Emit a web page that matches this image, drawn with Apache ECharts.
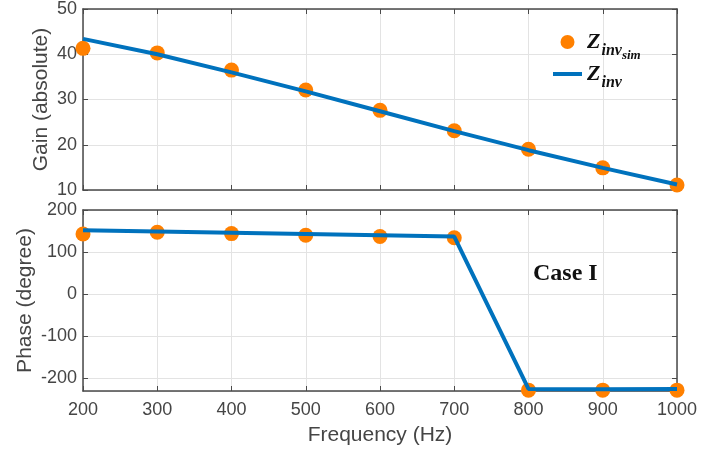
<!DOCTYPE html>
<html>
<head>
<meta charset="UTF-8">
<title>Gain / Phase</title>
<script src="https://cdn.jsdelivr.net/npm/echarts@6/dist/echarts.min.js"></script>
</head>
<body style="margin:0">
<div id="container" style="width:725px;height:451px"></div>
<script type="text/javascript">
    // frequency points (Hz)
    var freq = [200, 300, 400, 500, 600, 700, 800, 900, 1000];
    // gain, absolute
    var gainSim = [41.3, 40.3, 36.5, 32.1, 27.6, 23.1, 19.0, 14.9, 11.1];
    var gainInv = [43.4, 40.0, 36.0, 31.8, 27.4, 23.0, 18.8, 14.9, 11.2];
    // phase, degree
    var phaseSim = [143, 147, 144, 140, 137, 134, -228, -228, -228];
    var phaseInv = [152, 149, 146, 143, 140, 137, -225, -226, -225];

    var dom = document.getElementById("container");
    var myChart = echarts.init(dom);

    var txt = '#454545';
    var axisCol = '#4a4a4a';
    var orange = '#ff8000';
    var blue = '#0072bd';
    var sans = 'Liberation Sans, Arial';

    function pairs(xs, ys) {
        return xs.map(function (x, i) { return [x, ys[i]]; });
    }

    function xAx(grid, pos, labels, name) {
        return {
            type: 'value', gridIndex: grid, position: pos,
            min: 200, max: 1000, interval: 100,
            name: name || '', nameLocation: 'middle', nameGap: 34, nameMoveOverlap: false,
            nameTextStyle: {color: txt, fontSize: 21, fontFamily: sans},
            axisLine: {show: true, onZero: false, lineStyle: {color: axisCol, width: 1.5}},
            axisTick: {show: true, inside: true, length: 5, lineStyle: {color: axisCol}},
            axisLabel: {show: labels, color: txt, fontSize: 18, margin: 10, fontFamily: sans,
                formatter: function (v) { return String(v); }},
            splitLine: {show: pos === 'bottom', lineStyle: {color: '#e3e3e3'}}
        };
    }

    var option = {
        animation: false,
        backgroundColor: '#fff',
        grid: [
            {left: 83, right: 48, top: 9, height: 181},
            {left: 83, right: 48, top: 210, height: 181}
        ],
        xAxis: [
            xAx(0, 'bottom', false),
            xAx(0, 'top', false),
            xAx(1, 'bottom', true, 'Frequency (Hz)'),
            xAx(1, 'top', false)
        ],
        yAxis: [
            {
                type: 'value', gridIndex: 0, position: 'left', min: 10, max: 50, interval: 10,
                name: 'Gain (absolute)', nameLocation: 'middle', nameGap: 31, nameMoveOverlap: false,
                nameTextStyle: {color: txt, fontSize: 21, fontFamily: sans},
                axisLine: {show: true, lineStyle: {color: axisCol, width: 1.5}},
                axisTick: {show: true, inside: true, length: 5, lineStyle: {color: axisCol}},
                axisLabel: {color: txt, fontSize: 18, margin: 6, fontFamily: sans},
                splitLine: {show: true, lineStyle: {color: '#e3e3e3'}}
            },
            {
                type: 'value', gridIndex: 0, position: 'right', min: 10, max: 50, interval: 10,
                axisLine: {show: true, lineStyle: {color: axisCol, width: 1.5}},
                axisTick: {show: true, inside: true, length: 5, lineStyle: {color: axisCol}},
                axisLabel: {show: false}, splitLine: {show: false}
            },
            {
                type: 'value', gridIndex: 1, position: 'left', min: -230, max: 200, splitNumber: 4,
                name: 'Phase (degree)', nameLocation: 'middle', nameGap: 47, nameMoveOverlap: false,
                nameTextStyle: {color: txt, fontSize: 21, fontFamily: sans},
                axisLine: {show: true, lineStyle: {color: axisCol, width: 1.5}},
                axisTick: {show: true, inside: true, length: 5, lineStyle: {color: axisCol}},
                axisLabel: {color: txt, fontSize: 18, margin: 6, showMinLabel: false, fontFamily: sans},
                splitLine: {show: true, lineStyle: {color: '#e3e3e3'}}
            },
            {
                type: 'value', gridIndex: 1, position: 'right', min: -230, max: 200, splitNumber: 4,
                axisLine: {show: true, lineStyle: {color: axisCol, width: 1.5}},
                axisTick: {show: true, inside: true, length: 5, lineStyle: {color: axisCol}},
                axisLabel: {show: false}, splitLine: {show: false}
            }
        ],
        legend: {
            orient: 'vertical', left: 548, top: 26, itemGap: 1,
            itemWidth: 29, itemHeight: 14,
            data: [
                {name: 'Zsim', icon: 'circle'},
                {name: 'Zinv', icon: 'path://M0,0H29V4H0Z', itemStyle: {color: blue}}
            ],
            formatter: function (n) {
                return n === 'Zsim' ? '{z|Z}{s|inv}{ss|sim}' : '{z|Z}{s|inv}';
            },
            textStyle: {
                color: '#111',
                rich: {
                    z: {fontSize: 22, fontWeight: 'bold', fontStyle: 'italic', fontFamily: 'Liberation Serif', lineHeight: 24},
                    s: {fontSize: 16, fontWeight: 'bold', fontStyle: 'italic', fontFamily: 'Liberation Serif', verticalAlign: 'bottom', lineHeight: 16, padding: [0, 0, -5, 1]},
                    ss: {fontSize: 13, fontWeight: 'bold', fontStyle: 'italic', fontFamily: 'Liberation Serif', verticalAlign: 'bottom', lineHeight: 12, padding: [0, 0, -8, 0]}
                }
            }
        },
        graphic: [{
            type: 'text', left: 533, top: 262,
            style: {text: 'Case I', fill: '#111', font: 'bold 24px "Liberation Serif"'}
        }],
        series: [
            {
                name: 'Zsim', type: 'scatter', xAxisIndex: 0, yAxisIndex: 0,
                data: pairs(freq, gainSim), symbol: 'circle', symbolSize: 15,
                itemStyle: {color: orange, opacity: 1}, z: 2
            },
            {
                name: 'Zinv', type: 'line', xAxisIndex: 0, yAxisIndex: 0,
                data: pairs(freq, gainInv), symbol: 'none',
                lineStyle: {color: blue, width: 4}, itemStyle: {color: blue}, z: 3
            },
            {
                name: 'Zsim', type: 'scatter', xAxisIndex: 2, yAxisIndex: 2,
                data: pairs(freq, phaseSim), symbol: 'circle', symbolSize: 15,
                itemStyle: {color: orange, opacity: 1}, z: 2
            },
            {
                name: 'Zinv', type: 'line', xAxisIndex: 2, yAxisIndex: 2,
                data: pairs(freq, phaseInv), symbol: 'none',
                lineStyle: {color: blue, width: 4}, itemStyle: {color: blue}, z: 3
            }
        ]
    };
    myChart.setOption(option);
</script>
</body>
</html>
